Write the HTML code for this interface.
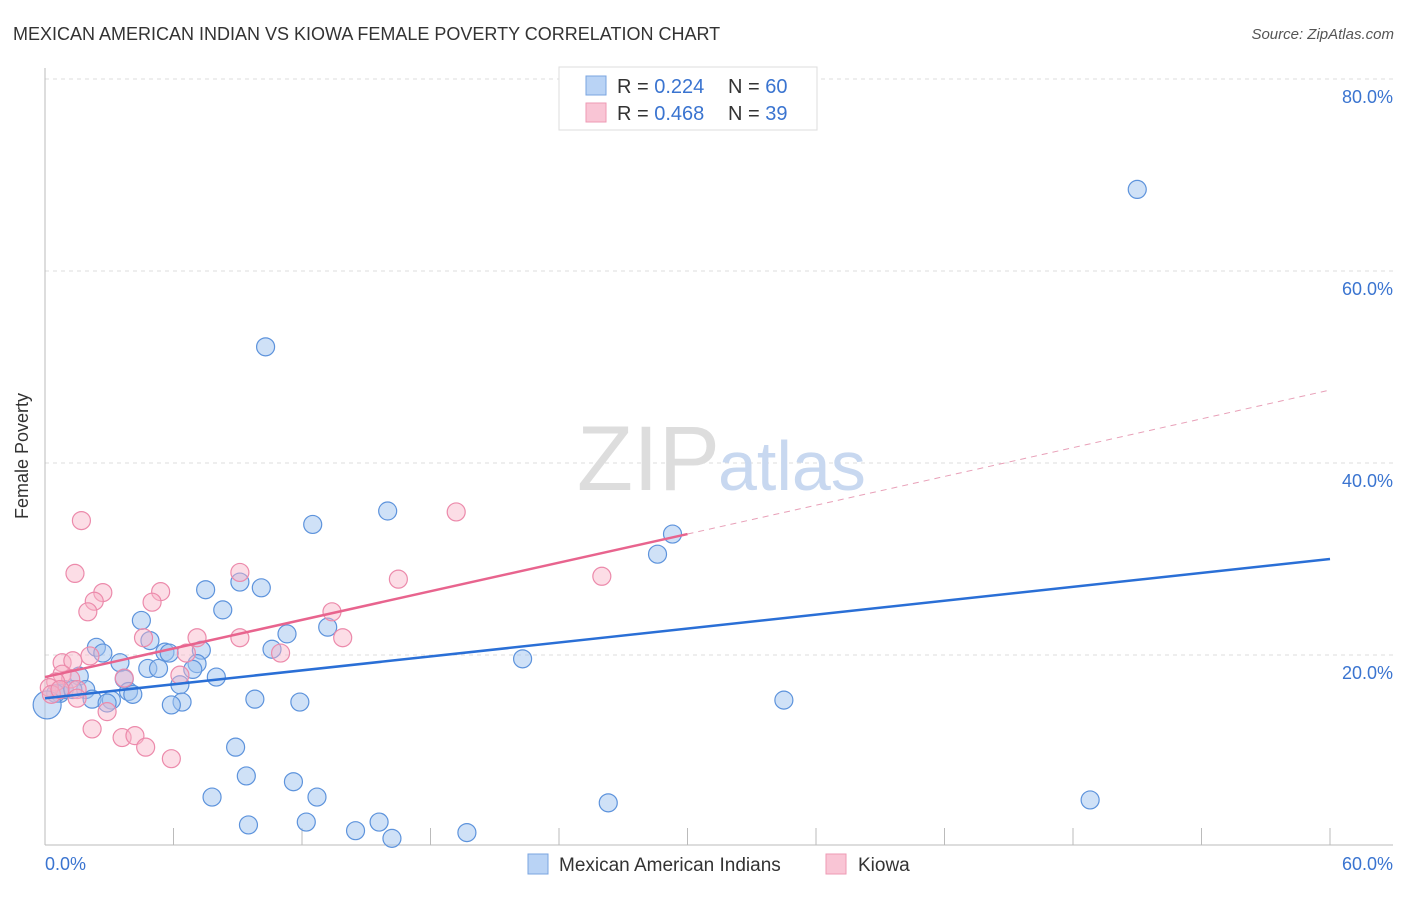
<!DOCTYPE html>
<html><head><meta charset="utf-8"><style>
body{margin:0;background:#fff;font-family:"Liberation Sans",sans-serif;}
svg text{font-family:"Liberation Sans",sans-serif;}
</style></head><body>
<svg width="1406" height="892" xmlns="http://www.w3.org/2000/svg">
<text x="13" y="40" font-size="18" fill="#333">MEXICAN AMERICAN INDIAN VS KIOWA FEMALE POVERTY CORRELATION CHART</text>
<text x="1394" y="39" font-size="15" fill="#555" text-anchor="end" font-style="italic">Source: ZipAtlas.com</text>
<g id="grid"></g>
<text x="720" y="490" font-size="92" fill="#ddd" text-anchor="end" font-family="Liberation Serif">ZIP</text>
<text x="718" y="490" font-size="70" fill="#c8d8f0">atlas</text>
<g id="axes"></g>
<g id="pts"></g>
<g id="lines"></g>
<text x="28" y="456" font-size="18" fill="#333" text-anchor="middle" transform="rotate(-90 28 456)">Female Poverty</text>
<text x="45" y="870" font-size="18" fill="#3a74d0">0.0%</text>
<text x="1393" y="870" font-size="18" fill="#3a74d0" text-anchor="end">60.0%</text>
<g>
<rect x="559" y="67" width="258" height="63" fill="#fff" stroke="#ddd"/>
<rect x="586" y="76" width="20" height="19" fill="#b9d3f5" stroke="#7aa5e0"/>
<rect x="586" y="103" width="20" height="19" fill="#f9c5d5" stroke="#ee9ab4"/>
<text x="617" y="93" font-size="20" fill="#333">R = <tspan fill="#3a74d0">0.224</tspan><tspan x="728">N = </tspan><tspan fill="#3a74d0">60</tspan></text>
<text x="617" y="120" font-size="20" fill="#333">R = <tspan fill="#3a74d0">0.468</tspan><tspan x="728">N = </tspan><tspan fill="#3a74d0"> 39</tspan></text>
</g>
<g>
<rect x="528" y="854" width="20" height="20" fill="#b9d3f5" stroke="#7aa5e0"/>
<text x="559" y="871" font-size="19" fill="#333">Mexican American Indians</text>
<rect x="826" y="854" width="20" height="20" fill="#f9c5d5" stroke="#ee9ab4"/>
<text x="858" y="871" font-size="19" fill="#333">Kiowa</text>
</g>
</svg>
<script>
const yTicks=[20,40,60,80];
const yTickLabels=["20.0%","40.0%","60.0%","80.0%"];
const xTicks=[6,12,18,24,30,36,42,48,54,60];
const blueX=[10.3,51.0,16.0,12.5,29.3,28.6,7.5,9.1,10.1,8.3,4.5,13.2,11.3,4.9,2.4,2.7,5.6,5.8,7.3,10.6,3.5,22.3,4.8,5.3,7.1,6.9,8.0,1.6,3.7,6.3,1.9,3.9,4.1,0.7,0.9,2.2,3.1,9.8,11.9,34.5,6.4,5.9,2.9,8.9,9.4,11.6,7.8,12.7,26.3,48.8,9.5,12.2,14.5,15.6,16.2,19.7,0.5,1.3,0.1];
const blueY=[52.1,68.5,35.0,33.6,32.6,30.5,26.8,27.6,27.0,24.7,23.6,22.9,22.2,21.5,20.8,20.2,20.3,20.2,20.5,20.6,19.2,19.6,18.6,18.6,19.1,18.5,17.7,17.8,17.5,16.9,16.4,16.2,15.9,16.0,16.4,15.4,15.3,15.4,15.1,15.3,15.1,14.8,15.0,10.4,7.4,6.8,5.2,5.2,4.6,4.9,2.3,2.6,1.7,2.6,0.9,1.5,16.0,16.4,14.8];
const pinkX=[1.7,1.4,2.7,2.3,2.0,5.4,5.0,9.1,19.2,16.5,26.0,13.4,13.9,9.1,7.1,4.6,11.0,6.6,2.1,0.8,1.3,0.8,1.2,0.5,0.2,6.3,3.7,1.5,1.5,2.9,2.2,3.6,4.2,4.7,5.9,0.3,0.7];
const pinkY=[34.0,28.5,26.5,25.6,24.5,26.6,25.5,28.6,34.9,27.9,28.2,24.5,21.8,21.8,21.8,21.8,20.2,20.2,19.9,19.2,19.4,18.0,17.5,17.2,16.6,17.9,17.6,16.4,15.5,14.1,12.3,11.4,11.6,10.4,9.2,15.9,16.4];
const blueTrend=[15.5,30.0];   // value at x=0, x=60
const pinkTrend=[17.7,32.6,47.6]; // x=0, x=30 (solid end), x=60
const NS="http://www.w3.org/2000/svg";
const X=v=>45+v*1285/60, Y=v=>847-v*9.6;
function mk(tag,a,p){const e=document.createElementNS(NS,tag);for(const k in a)e.setAttribute(k,a[k]);p.appendChild(e);return e;}
const grid=document.getElementById('grid'),axes=document.getElementById('axes'),pts=document.getElementById('pts'),lines=document.getElementById('lines');
yTicks.forEach((t,i)=>{
 const l=mk('line',{x1:45,x2:1393,y1:Y(t),y2:Y(t),stroke:'#ddd','stroke-dasharray':'4 4'},grid);
 
 
 const tx=mk('text',{x:1393,y:Y(t)+24,'font-size':18,fill:'#3a74d0','text-anchor':'end'},grid);
 tx.textContent=yTickLabels[i];
 
 
});
mk('line',{x1:45,x2:45,y1:68,y2:845,stroke:'#bbb'},axes);
mk('line',{x1:45,x2:1393,y1:845,y2:845,stroke:'#bbb'},axes);
xTicks.forEach(t=>{
 const l=mk('line',{x1:X(t),x2:X(t),y1:828,y2:845,stroke:'#bbb'},axes);
 
 
});
blueX.forEach((v,i)=>{
 const r=(i===blueX.length-1)?14:9;
 const c=mk('circle',{cx:X(v),cy:Y(blueY[i]),r:r,fill:'rgba(160,195,240,0.5)',stroke:'#5d93dc','stroke-width':1.2},pts);
 
 
});
pinkX.forEach((v,i)=>{
 const c=mk('circle',{cx:X(v),cy:Y(pinkY[i]),r:9,fill:'rgba(248,180,200,0.45)',stroke:'#ec8aab','stroke-width':1.2},pts);
 
 
});
const b=mk('line',{x1:X(0),y1:Y(blueTrend[0]),x2:X(60),y2:Y(blueTrend[1]),stroke:'#2a6fd6','stroke-width':2.5},lines);


const p=mk('line',{x1:X(0),y1:Y(pinkTrend[0]),x2:X(30),y2:Y(pinkTrend[1]),stroke:'#e8648e','stroke-width':2.5},lines);


const pd=mk('line',{x1:X(30),y1:Y(pinkTrend[1]),x2:X(60),y2:Y(pinkTrend[2]),stroke:'#e8a0b8','stroke-width':1,'stroke-dasharray':'6 5'},lines);


</script>
</body></html>
